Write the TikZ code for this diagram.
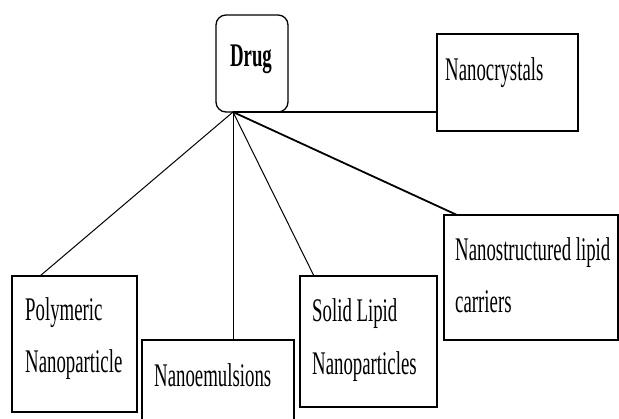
\documentclass[tikz,border=0pt]{standalone}
\usepackage{fontspec}
\setmainfont[FakeStretch=0.57]{Liberation Serif}
\usetikzlibrary{calc}
\begin{document}
\begin{tikzpicture}[x=1pt,y=-1pt,
  box/.style={draw=black,line width=1.3pt,inner sep=0pt,outer sep=0pt,anchor=north west,fill=white},
  txt/.style={inner sep=0pt,anchor=base west,font=\fontsize{33}{40}\selectfont},
  link/.style={draw=black,line width=1pt},
  boldlink/.style={draw=black,line width=1.8pt}]
\useasboundingbox (0,0) rectangle (619,419);
% boxes
\node[box,rounded corners=10pt,minimum width=72pt,minimum height=97pt] (drug) at (216,15) {};
\node[box,minimum width=141pt,minimum height=97pt] (nc) at (437,34) {};
\node[box,minimum width=125pt,minimum height=136pt] (poly) at (12,276) {};
\node[box,minimum width=152pt,minimum height=100pt] (nem) at (142,340) {};
\node[box,minimum width=137pt,minimum height=131pt] (sln) at (300,276) {};
\node[box,minimum width=174pt,minimum height=125pt] (nlc) at (444,215) {};
% texts
\node[txt,anchor=base,font=\fontsize{33}{40}\selectfont\bfseries] (tdrug) at (251,67) {Drug};
\node[txt] (tnc) at (445,81) {Nanocrystals};
\node[txt] (tpoly1) at (25,321) {Polymeric};
\node[txt] (tpoly2) at (25,373) {Nanoparticle};
\node[txt] (tnem) at (154,387) {Nanoemulsions};
\node[txt] (tsln1) at (312,322) {Solid Lipid};
\node[txt] (tsln2) at (312,375) {Nanoparticles};
\node[txt] (tnlc1) at (455,261) {Nanostructured lipid};
\node[txt] (tnlc2) at (455,313) {carriers};
% connectors
\coordinate (hub) at ($(drug.south west)+(17,0)$);
\draw[line width=1.6pt] (hub) -- ($(nc.south west)+(0,-19)$);
\draw[link] (hub) -- ($(poly.north west)+(28,0)$);
\draw[link] (hub) -- ($(nem.north west)+(91,0)$);
\draw[link] (hub) -- ($(sln.north west)+(14,0)$);
\draw[boldlink] (hub) -- ($(nlc.north west)+(13,0)$);
\end{tikzpicture}
\end{document}
